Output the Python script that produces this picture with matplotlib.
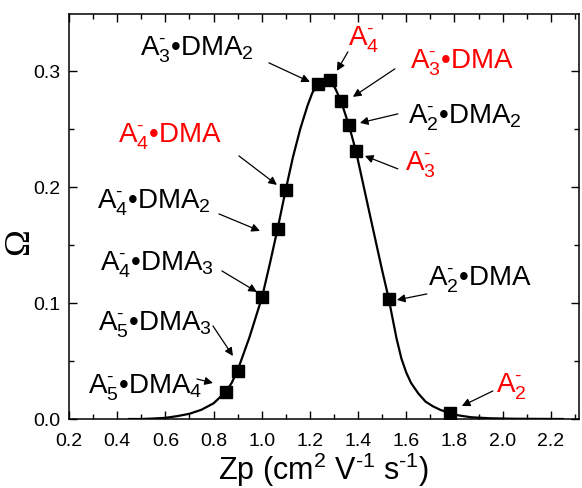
import numpy as np
import matplotlib
matplotlib.use("Agg")
import matplotlib.pyplot as plt

plt.rcParams['font.family'] = ['Liberation Sans', 'DejaVu Sans']
plt.rcParams['mathtext.fontset'] = 'custom'
plt.rcParams['mathtext.rm'] = 'Liberation Sans'
plt.rcParams['mathtext.it'] = 'Liberation Sans'
plt.rcParams['mathtext.bf'] = 'Liberation Sans:bold'

# measured points (Zp, Omega)
zp = [0.851, 0.900, 1.002, 1.066, 1.100, 1.235, 1.283, 1.329, 1.362, 1.391, 1.528, 1.781]
omega = [0.0235, 0.0417, 0.1055, 0.1638, 0.1977, 0.2888, 0.2917, 0.2744, 0.2534, 0.2313, 0.1034, 0.0052]

# fitted curve
curve_x = [0.45, 0.50, 0.55, 0.60, 0.65, 0.70, 0.75, 0.80, 0.851, 0.875, 0.90, 0.95, 1.002,
           1.035, 1.066, 1.10, 1.13, 1.16, 1.19, 1.21, 1.235, 1.26, 1.283, 1.305, 1.329,
           1.362, 1.391, 1.45, 1.50, 1.528, 1.54, 1.56, 1.58, 1.60, 1.62, 1.65, 1.68,
           1.71, 1.74, 1.781, 1.82, 1.87, 1.95, 2.05, 2.15, 2.25]
curve_y = [0.0, 0.0, 0.0004, 0.001, 0.0025, 0.0045, 0.008, 0.0135, 0.0235, 0.031, 0.042, 0.071, 0.1055,
           0.135, 0.164, 0.198, 0.226, 0.250, 0.270, 0.281, 0.289, 0.292, 0.2917, 0.285, 0.274,
           0.253, 0.231, 0.175, 0.128, 0.103, 0.090, 0.069, 0.052, 0.040, 0.031, 0.022, 0.015,
           0.011, 0.008, 0.005, 0.003, 0.0015, 0.0006, 0.0002, 0.0001, 0.0]

labels = [r"A$_5^{\text{-}}$•DMA$_4$", r"A$_5^{\text{-}}$•DMA$_3$", r"A$_4^{\text{-}}$•DMA$_3$",
          r"A$_4^{\text{-}}$•DMA$_2$", r"A$_4^{\text{-}}$•DMA", r"A$_3^{\text{-}}$•DMA$_2$",
          r"A$_4^{\text{-}}$", r"A$_3^{\text{-}}$•DMA", r"A$_2^{\text{-}}$•DMA$_2$",
          r"A$_3^{\text{-}}$", r"A$_2^{\text{-}}$•DMA", r"A$_2^{\text{-}}$"]
label_colors = ['black', 'black', 'black', 'black', 'red', 'black',
                'red', 'red', 'black', 'red', 'black', 'red']

# layout in pixels: text center, arrow tail, arrow tip
text_px = [(145, 388), (155, 325), (157, 265), (154, 203), (170, 137), (197, 50),
           (364, 40), (462, 63), (465, 118), (421, 165), (480, 280), (511, 387)]
tail_px = [(197, 380), (213, 327), (222, 272), (219, 215), (239, 157), (269, 64),
           (348, 53), (395, 70), (398, 115), (398, 170), (427, 295), (493, 392)]
tip_px = [(213, 384), (233, 357), (257, 293), (260, 232), (277, 186), (310, 83),
          (337, 72), (353, 98), (360, 124), (365, 157), (397, 301), (462, 407)]

W, H = 582, 489
fig = plt.figure(figsize=(W / 100, H / 100), dpi=100)
ax = fig.add_axes([69 / W, 1 - 420 / H, 510 / W, 405 / H])

ax.plot(curve_x, curve_y, color='black', lw=1.6, zorder=2)
ax.plot(zp, omega, 's', color='black', ms=8.5, zorder=3)

ax.set_xlim(0.2, 2.317)
ax.set_ylim(0, 0.349)
ax.set_xticks(np.arange(0.2, 2.21, 0.2))
ax.set_xticks(np.arange(0.2, 2.31, 0.1), minor=True)
ax.set_yticks([0.0, 0.1, 0.2, 0.3])
ax.set_yticks(np.arange(0, 0.35, 0.05), minor=True)
ax.set_xticklabels(["%.1f" % v for v in np.arange(0.2, 2.21, 0.2)])
ax.set_yticklabels(["0.0", "0.1", "0.2", "0.3"])
ax.tick_params(which='both', direction='in', top=True, right=True, labelsize=14, width=1)
ax.tick_params(which='major', length=6)
ax.tick_params(which='minor', length=3.5)
ax.tick_params(axis='x', pad=9)
ax.tick_params(axis='y', pad=6)
for s in ax.spines.values():
    s.set_linewidth(1.1)

ax.set_xlabel(r"Zp (cm$^2$ V$^{\text{-}1}$ s$^{\text{-}1}$)", fontsize=22, labelpad=1)
ax.set_ylabel("Ω", fontsize=26, family='Liberation Serif')
ax.yaxis.set_label_coords(-0.065, 0.44)


def to_data(p):
    return (0.2 + (p[0] - 69) / 241.0, (420 - p[1]) / 1160.0)


for lab, c, t, a, b in zip(labels, label_colors, text_px, tail_px, tip_px):
    ax.text(*to_data(t), lab, color=c, fontsize=20, ha='center', va='center')
    ax.annotate("", xy=to_data(b), xytext=to_data(a),
                arrowprops=dict(arrowstyle='-|>', color='black', lw=0.9,
                                mutation_scale=12, shrinkA=0, shrinkB=0))

fig.savefig("out.png", dpi=100)
